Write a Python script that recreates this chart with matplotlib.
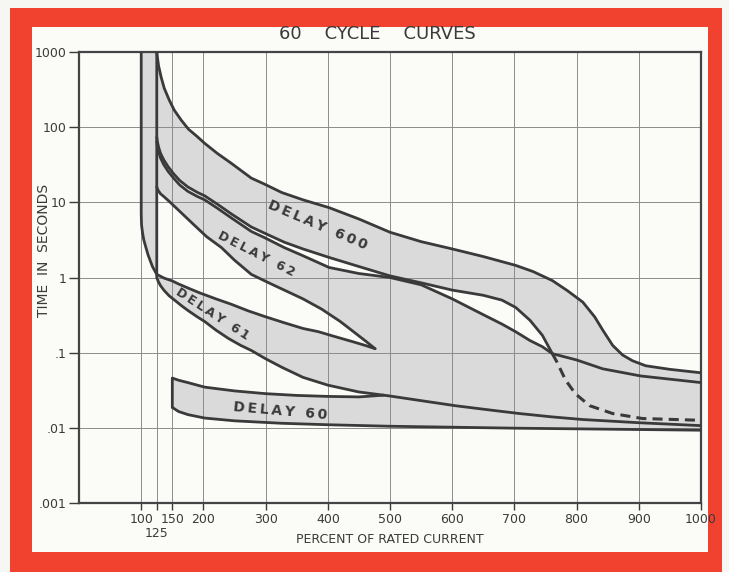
import numpy as np
import matplotlib.pyplot as plt
from matplotlib.patches import Rectangle

# percent of rated current / time in seconds
d600_top_x = [125, 126, 128, 132, 137, 145, 153, 164, 176, 190, 202, 222, 245, 277, 298, 326, 360, 402, 450, 500,
              550, 600, 650, 702, 730, 761, 785, 810, 829, 842, 858, 874, 890, 911, 950, 1000]
d600_top_t = [1000, 850, 650, 464, 330, 230, 169, 125, 94, 75, 61, 45, 33, 21, 17.5, 13.5, 10.8, 8.5, 6.0, 4.0,
              3.0, 2.4, 1.9, 1.45, 1.2, 0.91, 0.67, 0.47, 0.3, 0.2, 0.125, 0.093, 0.078, 0.067, 0.06, 0.054]

d600_low_x = [125, 126, 128, 131, 136, 143, 152, 162, 175, 190, 202, 222, 245, 277, 298, 330, 360, 402, 450, 500,
              550, 600, 650, 680, 702, 725, 745, 761]
d600_low_t = [74, 64, 54, 45, 37, 30, 24, 19.5, 16, 13.6, 12.2, 9.5, 7.0, 4.7, 3.9, 2.95, 2.4, 1.85, 1.4, 1.05,
              0.85, 0.68, 0.58, 0.5, 0.4, 0.27, 0.17, 0.097]
d600_dash_x = [761, 769, 782, 798, 821, 858, 906, 1000]
d600_dash_t = [0.097, 0.0735, 0.0435, 0.0284, 0.0197, 0.0155, 0.0133, 0.0126]

d62_top_x = [125, 126, 128, 131, 136, 143, 152, 162, 175, 190, 202, 222, 245, 277, 298, 330, 360, 402, 450, 500,
             550, 600, 650, 680, 702, 725, 745, 761, 800, 842, 903, 1000]
d62_top_t = [65, 56, 47, 39, 32, 26, 21, 17, 14, 12, 10.8, 8.4, 6.2, 4.1, 3.4, 2.5, 1.95, 1.36, 1.13, 1.0,
             0.8, 0.52, 0.32, 0.24, 0.19, 0.145, 0.12, 0.097, 0.08, 0.061, 0.049, 0.04]
d62_low_x = [125, 127, 131, 137, 145, 155, 168, 185, 205, 229, 250, 277, 305, 330, 360, 390, 420, 445, 462, 476]
d62_low_t = [16, 14.5, 13, 11.8, 10.3, 8.6, 6.8, 5.0, 3.5, 2.5, 1.7, 1.1, 0.85, 0.68, 0.52, 0.38, 0.26, 0.18, 0.14, 0.113]

d61_top_x = [100, 100, 100.5, 102, 104, 107, 111, 118, 125, 137, 150, 160, 176, 195, 220, 245, 272, 300, 330, 360,
             385, 410, 440, 460, 476]
d61_top_t = [1000, 7, 5, 4, 3.2, 2.6, 2.0, 1.4, 1.1, 0.98, 0.9, 0.82, 0.72, 0.62, 0.52, 0.44, 0.36, 0.3, 0.25, 0.21,
             0.19, 0.165, 0.14, 0.125, 0.113]
d61_low_x = [125, 125, 127, 131, 137, 145, 155, 165, 176, 190, 202, 220, 240, 260, 277, 300, 326, 360, 400, 450,
             490, 500, 550, 605, 660, 708, 760, 810, 900, 1000]
d61_low_t = [1000, 1.0, 0.9, 0.78, 0.67, 0.57, 0.49, 0.42, 0.36, 0.3, 0.26, 0.2, 0.155, 0.125, 0.107, 0.083, 0.064,
             0.047, 0.037, 0.03, 0.0272, 0.0265, 0.023, 0.0197, 0.0173, 0.0155, 0.014, 0.0129, 0.0117, 0.0107]

d60_top_x = [150, 150, 160, 175, 202, 250, 300, 350, 400, 450, 490]
d60_top_t = [0.0187, 0.046, 0.043, 0.04, 0.0348, 0.031, 0.0285, 0.027, 0.0262, 0.0258, 0.0272]
d60_low_x = [150, 160, 175, 202, 250, 326, 400, 500, 600, 700, 800, 900, 1000]
d60_low_t = [0.0187, 0.0165, 0.015, 0.0135, 0.0124, 0.0115, 0.011, 0.0105, 0.0102, 0.0099, 0.0097, 0.0095, 0.0093]

x_ticks = [100, 125, 150, 200, 300, 400, 500, 600, 700, 800, 900, 1000]
x_labels = ["100", "", "150", "200", "300", "400", "500", "600", "700", "800", "900", "1000"]
y_ticks = [0.001, 0.01, 0.1, 1, 10, 100, 1000]
y_labels = [".001", ".01", ".1", "1", "10", "100", "1000"]

ink = "#3a3a3a"
shade = "#dadada"
paper = "#fbfbf8"
plt.rcParams["font.family"] = "DejaVu Sans"

fig = plt.figure(figsize=(7.29, 5.72), dpi=100, facecolor="#f6f6f3")
fig.patches.append(Rectangle((0.0137, -0.01), 0.9767, 0.996, transform=fig.transFigure,
                             facecolor="#f1422f", edgecolor="none", zorder=-10))
fig.patches.append(Rectangle((0.0439, 0.035), 0.9272, 0.9178, transform=fig.transFigure,
                             facecolor=paper, edgecolor="none", zorder=-9))

ax = fig.add_axes([0.1084, 0.1206, 0.8532, 0.7885], zorder=2)
ax.set_facecolor(paper)
ax.set_yscale("log")
ax.set_xlim(0, 1000)
ax.set_ylim(0.001, 1000)


def band(xt, tt, xl, tl):
    ax.fill(np.r_[xt, xl[::-1]], np.r_[tt, tl[::-1]], color=shade, lw=0, zorder=1)


# the 61 lower curve carries on past the tip of the 62 band
after_tip = [i for i, x in enumerate(d61_low_x) if x > d62_low_x[-1]]
f_x = [d61_low_x[i] for i in after_tip]
f_t = [d61_low_t[i] for i in after_tip]

band(d600_top_x, d600_top_t, d600_low_x + d600_dash_x, d600_low_t + d600_dash_t)
band(d62_top_x, d62_top_t, d62_low_x + f_x, d62_low_t + f_t)
band(d61_top_x, d61_top_t, d61_low_x, d61_low_t)
band(d60_top_x + f_x[1:], d60_top_t + f_t[1:], d60_low_x, d60_low_t)

curves = [(d600_top_x, d600_top_t), (d600_low_x, d600_low_t), (d62_top_x, d62_top_t),
          (d62_low_x, d62_low_t), (d61_top_x, d61_top_t), (d61_low_x, d61_low_t),
          (d60_top_x, d60_top_t), (d60_low_x, d60_low_t)]
for xs, ts in curves:
    ax.plot(xs, ts, color=ink, lw=2, solid_capstyle="round", solid_joinstyle="round", zorder=3)
ax.plot(d600_dash_x, d600_dash_t, color=ink, lw=2.2, ls=(0, (3.3, 2.0)), zorder=3)

ax.set_xticks(x_ticks)
ax.set_xticklabels(x_labels, fontsize=9, color=ink)
ax.text(125, -0.067, "125", transform=ax.get_xaxis_transform(), fontsize=9, color=ink,
        ha="center", va="center")
ax.set_yticks(y_ticks)
ax.set_yticklabels(y_labels, fontsize=9, color=ink)
ax.minorticks_off()
ax.grid(True, color="#8c8c8c", lw=0.7)
ax.tick_params(length=5, width=1, color=ink, pad=2)
ax.tick_params(axis="y", length=7)
for s in ax.spines.values():
    s.set_color("#444444")
    s.set_linewidth(1.6)

ax.set_xlabel("PERCENT OF RATED CURRENT", fontsize=9, color=ink, labelpad=5)
ax.set_ylabel("TIME  IN  SECONDS", fontsize=10, color=ink)
ax.yaxis.set_label_coords(-0.045, 0.56)
fig.text(0.517, 0.941, "60    CYCLE    CURVES", fontsize=13, color=ink, ha="center", va="center")


def spaced(s):
    return "\u2009".join(s)


lab = dict(color=ink, fontweight="semibold", ha="center", va="center", zorder=4)
ax.text(384, 4.9, spaced("DELAY 600"), rotation=-23, fontsize=10, **lab)
ax.text(285, 2.03, spaced("DELAY 62"), rotation=-27, fontsize=9, **lab)
ax.text(214, 0.33, spaced("DELAY 61"), rotation=-33, fontsize=9, **lab)
ax.text(324, 0.0169, spaced("DELAY 60"), rotation=-5, fontsize=10, **lab)

fig.savefig("out.png", dpi=100, facecolor=fig.get_facecolor())
